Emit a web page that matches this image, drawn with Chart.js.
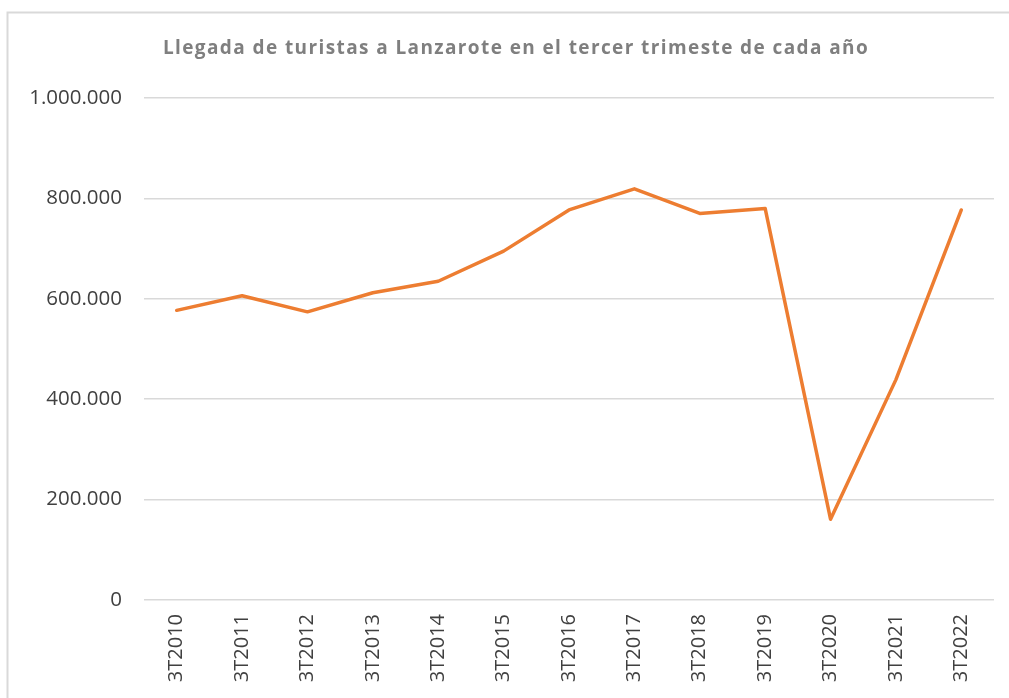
<!DOCTYPE html>
<html>
<head>
<meta charset="utf-8">
<script src="https://cdn.jsdelivr.net/npm/chart.js@4/dist/chart.umd.min.js"></script>
<style>
  html, body { margin: 0; padding: 0; background: #fff; }
  #wrap { position: relative; width: 1009px; height: 698px; }
</style>
</head>
<body>
<div id="wrap"><canvas id="c" width="1009" height="698"></canvas></div>
<script>
const categories = ["3T2010","3T2011","3T2012","3T2013","3T2014","3T2015","3T2016","3T2017","3T2018","3T2019","3T2020","3T2021","3T2022"];
const llegadas = [577000, 606000, 574000, 612000, 635000, 695000, 777000, 819000, 770000, 780000, 161000, 439000, 777000];
const yTicks = [0, 200000, 400000, 600000, 800000, 1000000];
const titleText = "Llegada de turistas a Lanzarote en el tercer trimeste de cada año";

function fmt(v) {
  return String(v).replace(/\B(?=(\d{3})+(?!\d))/g, ".");
}

const framePlugin = {
  id: 'frame',
  beforeDraw(chart) {
    const ctx = chart.ctx;
    ctx.save();
    ctx.fillStyle = '#ffffff';
    ctx.fillRect(0, 0, chart.width, chart.height);
    ctx.strokeStyle = '#d9d9d9';
    ctx.lineWidth = 2;
    ctx.strokeRect(7.5, 12.5, 1020, 720);
    ctx.restore();
  },
  afterDraw(chart) {
    const ctx = chart.ctx;
    ctx.save();
    ctx.font = 'bold 19px "Open Sans"';
    ctx.fillStyle = '#7f7f7f';
    if ('letterSpacing' in ctx) ctx.letterSpacing = '1.4px';
    ctx.textAlign = 'center';
    ctx.textBaseline = 'alphabetic';
    ctx.fillText(titleText, 516, 53.5);
    ctx.restore();
  }
};

new Chart(document.getElementById('c'), {
  type: 'line',
  data: {
    labels: categories,
    datasets: [{
      data: llegadas,
      borderColor: '#ED7D31',
      borderWidth: 3.5,
      pointRadius: 0,
      tension: 0,
      borderCapStyle: 'round',
      borderJoinStyle: 'round',
      fill: false
    }]
  },
  options: {
    responsive: false,
    animation: false,
    devicePixelRatio: 1,
    layout: { padding: { left: 0, right: 15, top: 98, bottom: 0 } },
    plugins: {
      legend: { display: false },
      tooltip: { enabled: false },
      title: { display: false }
    },
    scales: {
      x: {
        offset: true,
        grid: { display: false, drawTicks: false, offset: true },
        border: { display: false },
        ticks: {
          color: '#404040',
          font: { family: 'Open Sans', size: 20 },
          minRotation: 90,
          maxRotation: 90,
          padding: 14,
          autoSkip: false
        },
        afterFit(scale) { scale.height = 98; }
      },
      y: {
        min: 0,
        max: 1000000,
        afterBuildTicks(scale) { scale.ticks = yTicks.map(v => ({ value: v })); },
        grid: { color: '#d9d9d9', lineWidth: 1.5, drawTicks: false },
        border: { display: false },
        ticks: {
          color: '#404040',
          font: { family: 'Open Sans', size: 20.5 },
          padding: 22,
          callback: (v) => fmt(v)
        },
        afterFit(scale) { scale.width = 144; }
      }
    }
  },
  plugins: [framePlugin]
});
</script>
</body>
</html>
